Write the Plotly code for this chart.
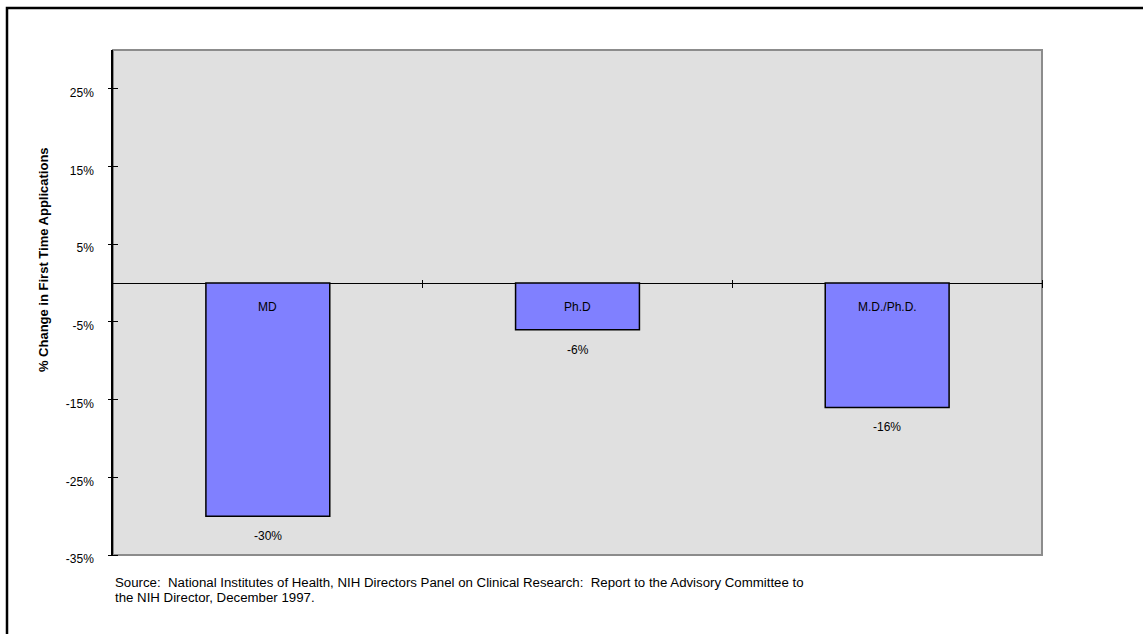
import plotly.graph_objects as go

# Degree groups and their percent change in first-time applications
degrees = ["MD", "Ph.D", "M.D./Ph.D."]
pct_change = [-30, -6, -16]

# Value axis ticks
y_ticks = [-35, -25, -15, -5, 5, 15, 25]
y_tick_text = ["-35%", "-25%", "-15%", "-5%", "5%", "15%", "25%"]
y_range = [-35, 30]

source_lines = [
    "Source:  National Institutes of Health, NIH Directors Panel on Clinical Research:  "
    "Report to the Advisory Committee to",
    "the NIH Director, December 1997.",
]
y_title = "% Change in First Time Applications"

FONT = "Liberation Sans, Arial, sans-serif"
W, H = 1143, 634
M = dict(l=113, r=101, t=50, b=79)
plot_w = W - M["l"] - M["r"]
plot_h = H - M["t"] - M["b"]
positions = list(range(len(degrees)))

fig = go.Figure()
fig.add_trace(go.Bar(
    x=degrees, y=pct_change, width=0.4,
    marker=dict(color="#8080FF", line=dict(color="#000000", width=1.5)),
    hoverinfo="skip",
))
# invisible carriers so the tick-only axes get drawn
fig.add_trace(go.Scatter(x=degrees, y=pct_change, xaxis="x", yaxis="y2", mode="markers",
                         marker=dict(opacity=0), hoverinfo="skip"))
fig.add_trace(go.Scatter(x=positions, y=pct_change, xaxis="x2", yaxis="y", mode="markers",
                         marker=dict(opacity=0), hoverinfo="skip"))

# category names inside the bars, values beneath them
for d, v in zip(degrees, pct_change):
    fig.add_annotation(x=d, y=0, xref="x", yref="y", text=d, showarrow=False,
                       yshift=-24, font=dict(family=FONT, size=12, color="#000000"))
    fig.add_annotation(x=d, y=v, xref="x", yref="y", text=f"{v}%", showarrow=False,
                       yshift=-20, font=dict(family=FONT, size=12, color="#000000"))

# source note, one line per annotation
for i, line in enumerate(source_lines):
    fig.add_annotation(x=0, y=0, xref="paper", yref="paper", xanchor="left", yanchor="middle",
                       yshift=-27 - 15 * i, align="left", text=line, showarrow=False,
                       font=dict(family=FONT, size=13.25, color="#000000"))

# vertical axis title
fig.add_annotation(x=0, y=0.584, xref="paper", yref="paper", xshift=-70, xanchor="center",
                   yanchor="middle", text=f"<b>{y_title}</b>", textangle=-90, showarrow=False,
                   font=dict(family=FONT, size=13, color="#000000"))

# plot frame and outer border
fig.add_shape(type="rect", xref="paper", yref="paper", x0=0, x1=1, y0=0, y1=1,
              line=dict(color="#8c8c8c", width=2), layer="below")
fig.add_shape(type="rect", xref="paper", yref="paper",
              x0=(7 - M["l"]) / plot_w, x1=1.3,
              y0=-0.3, y1=1 + (M["t"] - 8) / plot_h,
              line=dict(color="#000000", width=2.5))

zero_frac = (0 - y_range[0]) / (y_range[1] - y_range[0])

fig.update_layout(
    width=W, height=H, margin=M,
    paper_bgcolor="#ffffff", plot_bgcolor="#e0e0e0",
    showlegend=False, bargap=0.6,
    font=dict(family=FONT, size=12, color="#000000"),
    xaxis=dict(type="category", range=[-0.5, 2.5], showticklabels=False, ticks="",
               showline=False, showgrid=False, zeroline=False, fixedrange=True),
    # crossing ticks on the zero line between categories
    xaxis2=dict(overlaying="x", anchor="free", position=zero_frac + 4 / plot_h, side="bottom",
                type="linear", range=[-0.5, 2.5], tickmode="array", tickvals=[0.5, 1.5, 2.5],
                ticks="outside", ticklen=8, tickwidth=1, tickcolor="#000000",
                showticklabels=False, showline=False, showgrid=False, zeroline=False),
    yaxis=dict(range=y_range, tickmode="array", tickvals=y_ticks, ticktext=y_tick_text,
               ticks="", showline=True, linecolor="#000000", linewidth=1.5,
               zeroline=True, zerolinecolor="#000000", zerolinewidth=1,
               showgrid=False, ticklabelstandoff=15, ticklabelshift=4,
               tickfont=dict(family=FONT, size=12, color="#000000")),
    # crossing ticks on the value axis
    yaxis2=dict(overlaying="y", anchor="free", position=5 / plot_w, side="left",
                range=y_range, tickmode="array", tickvals=y_ticks,
                ticks="outside", ticklen=10, tickwidth=1, tickcolor="#000000",
                showticklabels=False, showline=False, showgrid=False, zeroline=False),
)

fig.write_html("out.html")
